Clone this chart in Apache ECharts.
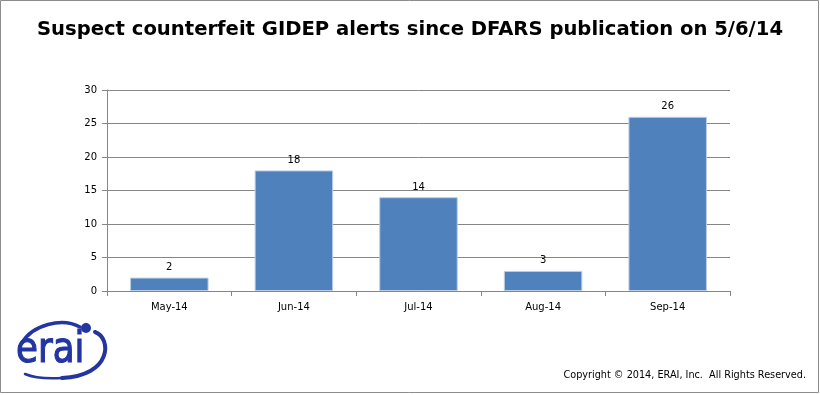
<!DOCTYPE html>
<html><head><meta charset="utf-8">
<script src="https://cdn.jsdelivr.net/npm/echarts@6/dist/echarts.min.js"></script>
<style>html,body{margin:0;padding:0;background:#fff}#c{width:820px;height:395px}</style>
</head><body><div id="c"></div>
<script>
const titleText = 'Suspect counterfeit GIDEP alerts since DFARS publication on 5/6/14';
const categories = ['May-14','Jun-14','Jul-14','Aug-14','Sep-14'];
const alerts = [2, 18, 14, 3, 26];
const yTicks = [0, 5, 10, 15, 20, 25, 30];
const copyright = 'Copyright \u00a9 2014, ERAI, Inc.  All Rights Reserved.';

const logoBlue = '#2335A0';
const chart = echarts.init(document.getElementById('c'), null, {renderer:'canvas'});
chart.setOption({
  animation:false,
  backgroundColor:'#fff',
  title:{text:titleText,left:'center',top:15,
    textStyle:{fontFamily:'DejaVu Sans',fontWeight:'bold',fontSize:19.6,color:'#000'}},
  grid:{left:107,right:90,top:90,bottom:104,containLabel:false},
  xAxis:{type:'category',data:categories,
    axisLine:{lineStyle:{color:'#868686',width:1}},
    axisTick:{show:true,length:5,lineStyle:{color:'#868686'}},
    axisLabel:{color:'#000',fontFamily:'DejaVu Sans',fontSize:10,margin:11}},
  yAxis:{type:'value',min:yTicks[0],max:yTicks[yTicks.length-1],interval:5,
    axisLine:{show:true,lineStyle:{color:'#868686',width:1}},
    axisTick:{show:true,length:5,lineStyle:{color:'#868686'}},
    splitLine:{lineStyle:{color:'#868686',width:1}},
    axisLabel:{color:'#000',fontFamily:'DejaVu Sans',fontSize:10,margin:10}},
  series:[{type:'bar',data:alerts,barWidth:'63%',
    itemStyle:{color:'#4F81BD',borderColor:'#B9CDE5',borderWidth:1},
    label:{show:true,position:'top',color:'#000',fontFamily:'DejaVu Sans',fontSize:10,distance:5}}],
  graphic:[
    {type:'rect',shape:{x:0.5,y:0.5,width:818,height:392},style:{fill:'none',stroke:'#8c8c8c',lineWidth:1},silent:true},
    {type:'text',x:806,y:375,style:{text:copyright,fontFamily:'DejaVu Sans',fontSize:9.7,fill:'#000',align:'right',verticalAlign:'middle'}},
    {type:'bezierCurve',shape:{x1:22,y1:343,cpx1:32,cpy1:325,cpx2:62,cpy2:317,x2:80,y2:327},style:{fill:'none',stroke:logoBlue,lineWidth:3.5,lineCap:'round'}},
    {type:'bezierCurve',shape:{x1:95,y1:332,cpx1:112,cpy1:338,cpx2:112,cpy2:376,x2:62,y2:378},style:{fill:'none',stroke:logoBlue,lineWidth:4,lineCap:'round'}},
    {type:'bezierCurve',shape:{x1:62,y1:378,cpx1:45,cpy1:379,cpx2:32,cpy2:377,x2:25,y2:374},style:{fill:'none',stroke:logoBlue,lineWidth:2.5,lineCap:'round'}},
    {type:'text',x:16,y:372,scaleX:0.85,style:{text:'erai',fontFamily:'DejaVu Sans',fontSize:42,fill:logoBlue,stroke:logoBlue,lineWidth:1.2,verticalAlign:'bottom'}},
    {type:'circle',shape:{cx:86,cy:328,r:5},style:{fill:logoBlue}}
  ]
});
</script></body></html>
